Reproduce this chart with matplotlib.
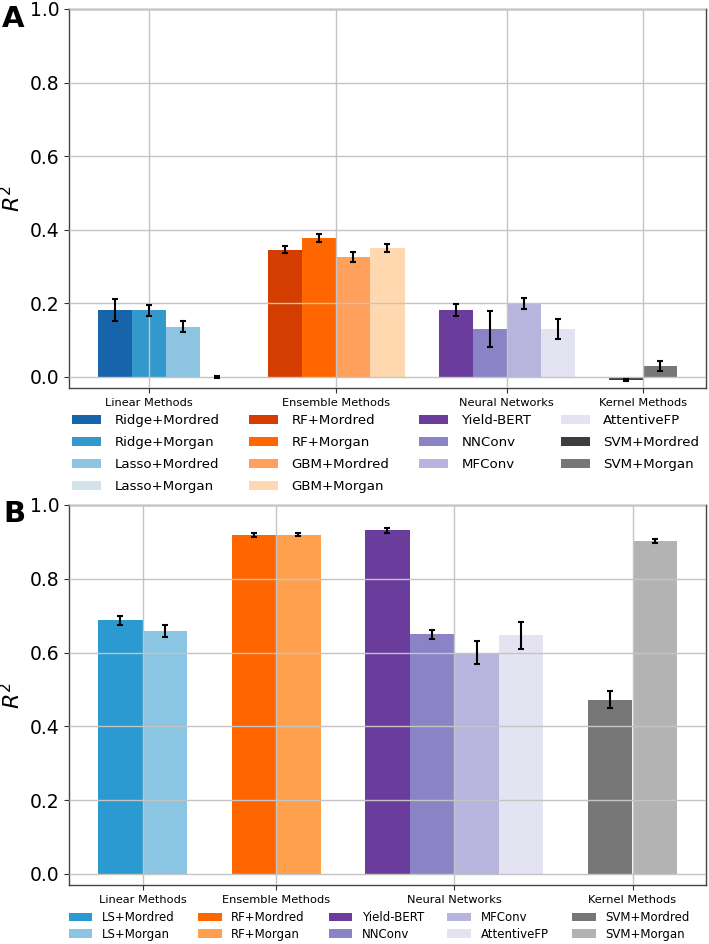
import matplotlib
matplotlib.use("Agg")
import matplotlib.pyplot as plt
import numpy as np

# ---------------- data ----------------
groups = ["Linear Methods", "Ensemble Methods", "Neural Networks", "Kernel Methods"]

a_labels = ["Ridge+Mordred", "Ridge+Morgan", "Lasso+Mordred", "Lasso+Morgan",
            "RF+Mordred", "RF+Morgan", "GBM+Mordred", "GBM+Morgan",
            "Yield-BERT", "NNConv", "MFConv", "AttentiveFP",
            "SVM+Mordred", "SVM+Morgan"]
a_group_sizes = [4, 4, 4, 2]
a_values = [0.183, 0.181, 0.136, 0.000,
            0.346, 0.378, 0.326, 0.350,
            0.182, 0.130, 0.200, 0.130,
            -0.008, 0.029]
a_errors = [0.030, 0.015, 0.015, 0.002,
            0.010, 0.010, 0.013, 0.010,
            0.017, 0.048, 0.014, 0.027,
            0.003, 0.014]
a_colors = ["#1764ab", "#3399cc", "#8cc4e2", "#d3e3ea",
            "#d43d00", "#ff6600", "#ffa05c", "#ffd8b0",
            "#6a3d9d", "#8a84c6", "#b7b4dd", "#e4e3f1",
            "#3d3d3d", "#777777"]

b_labels = ["LS+Mordred", "LS+Morgan",
            "RF+Mordred", "RF+Morgan",
            "Yield-BERT", "NNConv", "MFConv", "AttentiveFP",
            "SVM+Mordred", "SVM+Morgan"]
b_group_sizes = [2, 2, 4, 2]
b_values = [0.687, 0.659,
            0.918, 0.920,
            0.931, 0.649, 0.600, 0.647,
            0.472, 0.903]
b_errors = [0.012, 0.017,
            0.006, 0.005,
            0.007, 0.012, 0.032, 0.037,
            0.023, 0.005]
b_colors = ["#2a9ad0", "#8ac5e3",
            "#ff6600", "#ffa04f",
            "#6a3d9d", "#8a84c6", "#b7b4dd", "#e4e3f1",
            "#777777", "#b3b3b3"]

yticks = [0.0, 0.2, 0.4, 0.6, 0.8, 1.0]

W, H = 709, 944
fig = plt.figure(figsize=(W / 100, H / 100), dpi=100)


def layout(sizes, values):
    pos = []
    ticks = []
    start = 0
    i = 0
    for s in sizes:
        centers = [start + k + 0.5 for k in range(s)]
        pos.extend(centers)
        nz = [c for c, v in zip(centers, values[i:i + s]) if v != 0]
        ticks.append(np.mean(nz))
        start += s + 1
        i += s
    return pos, ticks


def panel(rect, labels, sizes, values, errors, colors, leg_kw):
    ax = fig.add_axes(rect)
    pos, ticks = layout(sizes, values)
    handles = []
    for x, v, e, c, lab in zip(pos, values, errors, colors, labels):
        b = ax.bar(x, v, width=1.0, color=c, label=lab, zorder=1)
        handles.append(b)
        ax.errorbar(x, v, yerr=e, fmt="none", ecolor="black", elinewidth=1.5,
                    capsize=2, capthick=1.5, zorder=3)
    ax.set_ylim(-0.03, 1.0)
    ax.set_yticks(yticks)
    ax.set_yticklabels([f"{t:.1f}" for t in yticks], fontsize=13.5)
    ax.set_xticks(ticks)
    ax.set_xticklabels(groups, fontsize=8.2)
    ax.grid(True, color="#c4c4c4", linewidth=1.0, zorder=2)
    ax.set_axisbelow(False)
    for sp in ax.spines.values():
        sp.set_color("#444444")
        sp.set_linewidth(1.0)
    ax.tick_params(colors="#333333", labelcolor="black")
    ax.set_ylabel("$R^2$", fontsize=16, labelpad=4)
    ax.legend(handles=handles, loc="upper center", frameon=False, **leg_kw)
    return ax


axA = panel([69 / W, 1 - 388 / H, 637 / W, 379 / H],
            a_labels, a_group_sizes, a_values, a_errors, a_colors,
            dict(bbox_to_anchor=(0.497, -0.037), ncol=4, fontsize=9.6,
                 handlelength=2.2, handletextpad=1.0, columnspacing=2.2,
                 labelspacing=0.68))
axB = panel([69 / W, 1 - 885 / H, 637 / W, 380 / H],
            b_labels, b_group_sizes, b_values, b_errors, b_colors,
            dict(bbox_to_anchor=(0.487, -0.04), ncol=5, fontsize=8.5,
                 columnspacing=2.0, labelspacing=0.32))

fig.text(2 / W, 1 - 5 / H, "A", fontsize=21, fontweight="bold", va="top", ha="left")
fig.text(3 / W, 1 - 500 / H, "B", fontsize=21, fontweight="bold", va="top", ha="left")

fig.savefig("out.png", dpi=100)
